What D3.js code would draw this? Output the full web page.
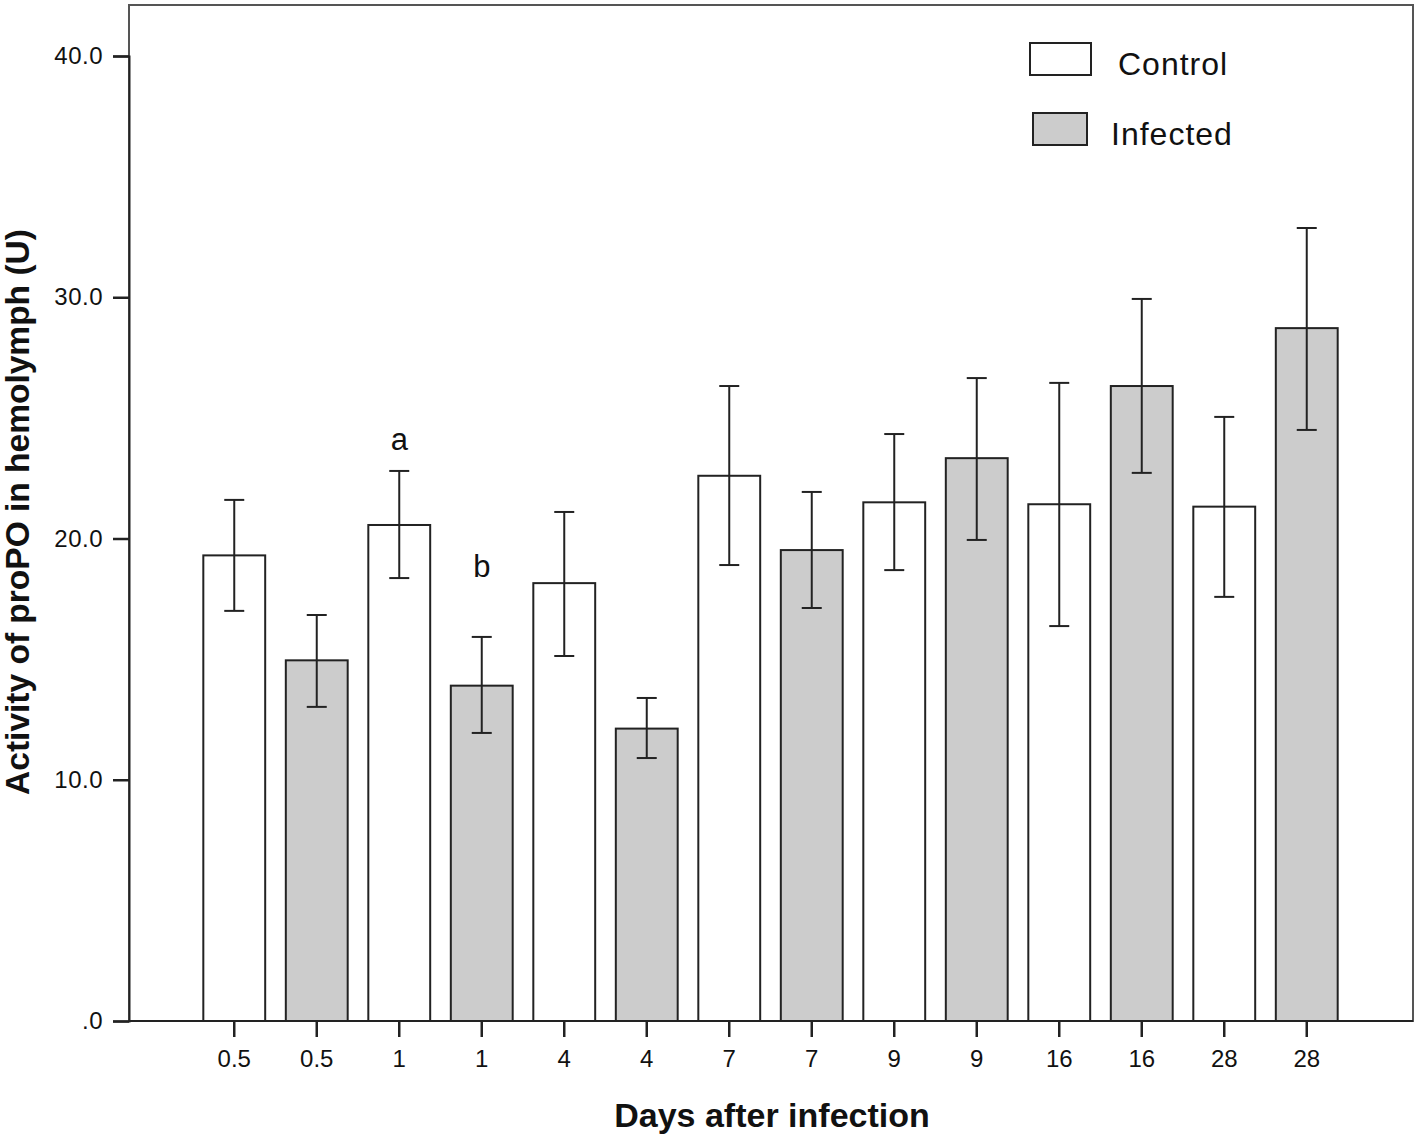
<!DOCTYPE html>
<html><head><meta charset="utf-8">
<script src="https://cdn.jsdelivr.net/npm/d3@7"></script>
<style>body{margin:0;background:#fff}svg{display:block}text{font-family:"Liberation Sans",Arial,sans-serif}</style>
</head><body><svg id="c" width="1418" height="1137"></svg>
<script>
const categories = ["0.5","0.5","1","1","4","4","7","7","9","9","16","16","28","28"];
const groups = ["Control","Infected","Control","Infected","Control","Infected","Control","Infected","Control","Infected","Control","Infected","Control","Infected"];
const means = [19.3,14.95,20.56,13.9,18.15,12.12,22.6,19.52,21.5,23.33,21.42,26.32,21.32,28.72];
const upper = [21.6,16.83,22.8,15.92,21.1,13.39,26.32,21.93,24.33,26.65,26.45,29.93,25.04,32.87];
const lower = [17.0,13.02,18.36,11.94,15.13,10.9,18.9,17.12,18.69,19.94,16.37,22.72,17.58,24.5];
const yTicks = [0,10,20,30,40];
const yTickLabels = [".0","10.0","20.0","30.0","40.0"];
const annotationIndex = [2,3];
const annotationLabels = ["a","b"];
const annotationValues = [23.67,18.4];
const legendItems = ["Control","Infected"];
const fills = {Control:"#ffffff", Infected:"#cccccc"};

const svg = d3.select("#c");
const L=129, R=1413, T=5, B=1021;
const y = d3.scaleLinear().domain([0,40]).range([B,56]);
const x = d3.scaleBand().domain(d3.range(categories.length)).range([193,1348]).paddingInner(0.25).paddingOuter(0.125);

// frame
svg.append("rect").attr("x",L).attr("y",T).attr("width",R-L).attr("height",B-T)
  .attr("fill","none").attr("stroke","#555").attr("stroke-width",2);

// bars
const bw = x.bandwidth();
svg.selectAll("rect.bar").data(means).join("rect").attr("class","bar")
  .attr("x",(d,i)=>x(i)).attr("y",d=>y(d)).attr("width",bw).attr("height",d=>B-y(d))
  .attr("fill",(d,i)=>fills[groups[i]]).attr("stroke","#222").attr("stroke-width",2);

// error bars
const eb = svg.append("g").attr("stroke","#222").attr("stroke-width",2);
means.forEach((m,i)=>{
  const cx = x(i)+bw/2;
  eb.append("line").attr("x1",cx).attr("x2",cx).attr("y1",y(upper[i])).attr("y2",y(lower[i]));
  eb.append("line").attr("x1",cx-10).attr("x2",cx+10).attr("y1",y(upper[i])).attr("y2",y(upper[i]));
  eb.append("line").attr("x1",cx-10).attr("x2",cx+10).attr("y1",y(lower[i])).attr("y2",y(lower[i]));
});

// y axis
const ya = svg.append("g").attr("transform",`translate(${L},0)`)
  .call(d3.axisLeft(y).tickValues(yTicks).tickFormat((d,i)=>yTickLabels[i]).tickSize(16).tickPadding(10));
ya.select(".domain").attr("stroke","#222").attr("stroke-width",2);
ya.selectAll(".tick line").attr("stroke","#222").attr("stroke-width",2.5);
ya.selectAll(".tick text").attr("font-size",24).attr("letter-spacing",0.5).attr("fill","#111").attr("font-family","Liberation Sans, Arial, sans-serif");

// x axis
const xa = svg.append("g").attr("transform",`translate(0,${B})`)
  .call(d3.axisBottom(x).tickFormat(i=>categories[i]).tickSize(16).tickPadding(13));
xa.select(".domain").remove();
svg.append("line").attr("x1",L).attr("x2",R).attr("y1",B).attr("y2",B).attr("stroke","#222").attr("stroke-width",2);
xa.selectAll(".tick line").attr("stroke","#222").attr("stroke-width",2.5);
xa.selectAll(".tick text").attr("font-size",24).attr("fill","#111").attr("font-family","Liberation Sans, Arial, sans-serif");

// annotations
annotationIndex.forEach((idx,k)=>{
  svg.append("text").attr("x",x(idx)+bw/2).attr("y",y(annotationValues[k])).attr("text-anchor","middle")
    .attr("font-size",31).attr("fill","#111").text(annotationLabels[k]);
});

// axis titles
svg.append("text").attr("x",772).attr("y",1127).attr("text-anchor","middle").attr("font-size",34)
  .attr("font-weight","bold").attr("fill","#111").text("Days after infection");
svg.append("text").attr("transform","translate(29,512) rotate(-90)").attr("text-anchor","middle").attr("font-size",33.5)
  .attr("font-weight","bold").attr("fill","#111").text("Activity of proPO in hemolymph (U)");

// legend
const lg = svg.append("g");
const legBoxes = [{x:1030,y:43,w:61,h:32},{x:1033,y:113,w:54,h:32}];
const legText = [{x:1118,y:75},{x:1111,y:145}];
legendItems.forEach((k,i)=>{
  lg.append("rect").attr("x",legBoxes[i].x).attr("y",legBoxes[i].y).attr("width",legBoxes[i].w).attr("height",legBoxes[i].h)
    .attr("fill",fills[k]).attr("stroke","#222").attr("stroke-width",2);
  lg.append("text").attr("x",legText[i].x).attr("y",legText[i].y).attr("font-size",32).attr("letter-spacing",1).attr("fill","#111").text(k);
});
</script></body></html>
